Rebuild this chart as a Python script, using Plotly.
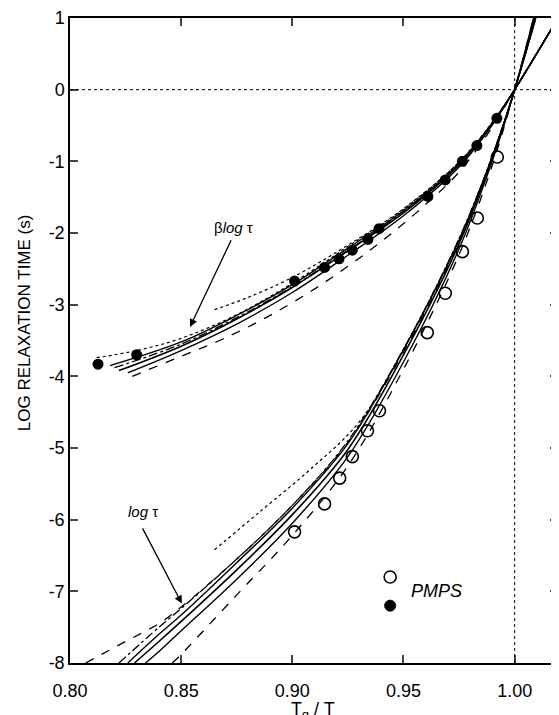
import plotly.graph_objects as go

# ---------------- data ----------------
# open circles: log tau
open_x = [0.901, 0.9145, 0.9213, 0.927, 0.9338, 0.9392, 0.9607, 0.9688, 0.9765, 0.9832, 0.9922]
open_y = [-6.17, -5.78, -5.42, -5.12, -4.76, -4.48, -3.39, -2.84, -2.26, -1.79, -0.94]

# filled circles: beta log tau
filled_x = [0.8126, 0.830, 0.901, 0.9145, 0.921, 0.927, 0.934, 0.939, 0.961, 0.9688, 0.9765, 0.983, 0.992]
filled_y = [-3.83, -3.70, -2.67, -2.48, -2.36, -2.24, -2.09, -1.94, -1.49, -1.26, -1.0, -0.78, -0.40]

# lower bundle (log tau fits)
low_solid1_x = [0.829, 0.84, 0.85, 0.875, 0.90, 0.925, 0.95, 0.975, 0.99, 1.0, 1.009]
low_solid1_y = [-8.0, -7.70, -7.42, -6.70, -5.93, -5.02, -3.70, -2.15, -0.95, 0.0, 1.0]
low_solid2_x = [0.834, 0.84, 0.85, 0.875, 0.90, 0.925, 0.95, 0.975, 0.99, 1.0, 1.0085]
low_solid2_y = [-8.0, -7.84, -7.55, -6.83, -6.05, -5.12, -3.80, -2.22, -0.99, 0.0, 1.0]
low_solid3_x = [0.826, 0.84, 0.85, 0.875, 0.90, 0.925, 0.95, 0.975, 0.99, 1.0, 1.0095]
low_solid3_y = [-8.0, -7.60, -7.33, -6.60, -5.84, -4.94, -3.63, -2.10, -0.93, 0.0, 1.0]
low_dashdot_x = [0.822, 0.84, 0.85, 0.875, 0.90, 0.925, 0.95, 0.975, 0.99, 1.0, 1.0095]
low_dashdot_y = [-8.0, -7.50, -7.24, -6.55, -5.80, -4.90, -3.62, -2.08, -0.92, 0.0, 1.0]
low_dash1_x = [0.807, 0.825, 0.84, 0.85, 0.875, 0.90, 0.925, 0.95, 0.975, 0.99, 1.0, 1.0095]
low_dash1_y = [-8.0, -7.70, -7.45, -7.22, -6.55, -5.80, -4.92, -3.66, -2.12, -0.94, 0.0, 1.0]
low_dash2_x = [0.846, 0.85, 0.875, 0.90, 0.925, 0.95, 0.975, 0.99, 1.0, 1.0085]
low_dash2_y = [-8.0, -7.88, -7.05, -6.22, -5.25, -3.90, -2.30, -1.05, 0.0, 1.0]
low_dot_x = [0.865, 0.885, 0.908, 0.93, 0.95, 0.975, 0.99, 1.0, 1.0095]
low_dot_y = [-6.42, -5.90, -5.30, -4.64, -3.62, -2.08, -0.92, 0.0, 1.0]

# upper bundle (beta log tau fits)
up_solid1_x = [0.822, 0.85, 0.875, 0.90, 0.925, 0.95, 0.975, 0.99, 1.0, 1.0195]
up_solid1_y = [-3.92, -3.58, -3.20, -2.76, -2.25, -1.72, -1.05, -0.47, 0.0, 1.0]
up_solid2_x = [0.826, 0.85, 0.875, 0.90, 0.925, 0.95, 0.975, 0.99, 1.0, 1.0195]
up_solid2_y = [-3.95, -3.64, -3.27, -2.83, -2.31, -1.76, -1.08, -0.49, 0.0, 1.0]
up_solid3_x = [0.818, 0.85, 0.875, 0.90, 0.925, 0.95, 0.975, 0.99, 1.0, 1.0195]
up_solid3_y = [-3.85, -3.52, -3.15, -2.72, -2.21, -1.69, -1.03, -0.46, 0.0, 1.0]
up_dashdot_x = [0.82, 0.85, 0.875, 0.90, 0.925, 0.95, 0.975, 0.99, 1.0, 1.0195]
up_dashdot_y = [-3.88, -3.55, -3.18, -2.75, -2.24, -1.70, -1.04, -0.47, 0.0, 1.0]
up_dash_x = [0.828, 0.85, 0.868, 0.89, 0.914, 0.94, 0.96, 0.975, 0.99, 1.0, 1.0195]
up_dash_y = [-4.00, -3.72, -3.49, -3.15, -2.70, -2.12, -1.60, -1.15, -0.52, 0.0, 1.0]
up_dot1_x = [0.812, 0.83, 0.85, 0.875, 0.90, 0.925, 0.95, 0.975, 0.99, 1.0, 1.0195]
up_dot1_y = [-3.74, -3.64, -3.47, -3.14, -2.70, -2.19, -1.67, -1.01, -0.45, 0.0, 1.0]
up_dot2_x = [0.865, 0.88, 0.90, 0.925, 0.95, 0.975, 0.99, 1.0, 1.0195]
up_dot2_y = [-3.07, -2.90, -2.62, -2.17, -1.66, -1.01, -0.46, 0.0, 1.0]

x_ticks = [0.80, 0.85, 0.90, 0.95, 1.00]
x_tick_labels = ["0.80", "0.85", "0.90", "0.95", "1.00"]
y_ticks = [1, 0, -1, -2, -3, -4, -5, -6, -7, -8]
y_tick_labels = ["1", "0", "-1", "-2", "-3", "-4", "-5", "-6", "-7", "-8"]

FONT = "Liberation Sans, Arial, Helvetica, sans-serif"

# ---------------- figure ----------------
fig = go.Figure()

curves = [
    (low_solid1_x, low_solid1_y, "solid", 1.6),
    (low_solid2_x, low_solid2_y, "solid", 1.4),
    (low_solid3_x, low_solid3_y, "solid", 1.4),
    (low_dashdot_x, low_dashdot_y, "dashdot", 1.3),
    (low_dash1_x, low_dash1_y, "dash", 1.3),
    (low_dash2_x, low_dash2_y, "dash", 1.3),
    (low_dot_x, low_dot_y, "dot", 1.2),
    (up_solid1_x, up_solid1_y, "solid", 1.6),
    (up_solid2_x, up_solid2_y, "solid", 1.4),
    (up_solid3_x, up_solid3_y, "solid", 1.4),
    (up_dashdot_x, up_dashdot_y, "dashdot", 1.3),
    (up_dash_x, up_dash_y, "dash", 1.3),
    (up_dot1_x, up_dot1_y, "dot", 1.2),
    (up_dot2_x, up_dot2_y, "dot", 1.2),
]
for cx, cy, dash, w in curves:
    fig.add_trace(go.Scatter(x=cx, y=cy, mode="lines",
                             line=dict(color="black", width=w, dash=dash, shape="spline", smoothing=1.0),
                             showlegend=False, hoverinfo="skip"))

fig.add_trace(go.Scatter(x=open_x, y=open_y, mode="markers",
                         marker=dict(symbol="circle-open", size=12, color="black", line=dict(width=1.6)),
                         showlegend=False))
fig.add_trace(go.Scatter(x=filled_x, y=filled_y, mode="markers",
                         marker=dict(symbol="circle", size=11, color="black"),
                         showlegend=False))

shapes = [
    dict(type="line", xref="paper", yref="y", x0=0, x1=1, y0=0, y1=0,
         line=dict(color="black", width=1, dash="dot")),
    dict(type="line", xref="x", yref="paper", x0=1.0, x1=1.0, y0=0, y1=1,
         line=dict(color="black", width=1, dash="dot")),
    # legend symbols
    dict(type="circle", xref="x", yref="y", xsizemode="pixel", ysizemode="pixel",
         xanchor=0.944, yanchor=-6.80, x0=-6, x1=6, y0=-6, y1=6,
         line=dict(color="black", width=1.6), fillcolor="white"),
    dict(type="circle", xref="x", yref="y", xsizemode="pixel", ysizemode="pixel",
         xanchor=0.944, yanchor=-7.20, x0=-5.5, x1=5.5, y0=-5.5, y1=5.5,
         line=dict(color="black", width=1), fillcolor="black"),
]

annotations = [
    dict(x=0.8735, y=-1.93, xref="x", yref="y", text="β<i>log</i> τ", showarrow=False,
         font=dict(size=15, color="black", family=FONT)),
    dict(x=0.854, y=-3.31, ax=0.8728, ay=-2.08, xref="x", yref="y", axref="x", ayref="y",
         text="", showarrow=True, arrowhead=2, arrowsize=1.2, arrowwidth=1.3, arrowcolor="black"),
    dict(x=0.8328, y=-5.89, xref="x", yref="y", text="<i>log</i> τ", showarrow=False,
         font=dict(size=15, color="black", family=FONT)),
    dict(x=0.8503, y=-7.17, ax=0.8323, ay=-6.10, xref="x", yref="y", axref="x", ayref="y",
         text="", showarrow=True, arrowhead=2, arrowsize=1.2, arrowwidth=1.3, arrowcolor="black"),
    dict(x=0.9525, y=-7.0, xref="x", yref="y", text="<i>PMPS</i>", showarrow=False, xanchor="left",
         font=dict(size=18, color="black", family=FONT)),
    # axis titles
    dict(x=0.498, y=-0.052, xref="paper", yref="paper", xanchor="center", yanchor="top",
         text="T<sub>g</sub> / T", showarrow=False, font=dict(size=18, color="black", family=FONT)),
    dict(x=-0.094, y=0.527, xref="paper", yref="paper", xanchor="center", yanchor="middle",
         text="LOG RELAXATION TIME (s)", textangle=-90, showarrow=False,
         font=dict(size=17, color="black", family=FONT)),
]

# the page body has an 8px margin, so the figure is sized to fit inside the window
fig.update_layout(
    width=551, height=707,
    margin=dict(l=62, r=1, t=10, b=52, autoexpand=False),
    paper_bgcolor="white", plot_bgcolor="white",
    font=dict(family=FONT, color="black", size=18),
    shapes=shapes, annotations=annotations, showlegend=False,
)
fig.update_xaxes(range=[0.80, 1.0195], tickvals=x_ticks, ticktext=x_tick_labels,
                 ticks="inside", ticklen=8, tickwidth=1.5, showline=True, linewidth=1.5,
                 linecolor="black", mirror="ticks", showgrid=False, zeroline=False,
                 tickfont=dict(size=18), automargin=False, ticklabelstandoff=11)
fig.update_yaxes(range=[-8, 1], tickvals=y_ticks, ticktext=y_tick_labels,
                 ticks="inside", ticklen=8, tickwidth=1.5, showline=True, linewidth=1.5,
                 linecolor="black", mirror="ticks", showgrid=False, zeroline=False,
                 tickfont=dict(size=18), automargin=False)

fig.write_html("out.html")
